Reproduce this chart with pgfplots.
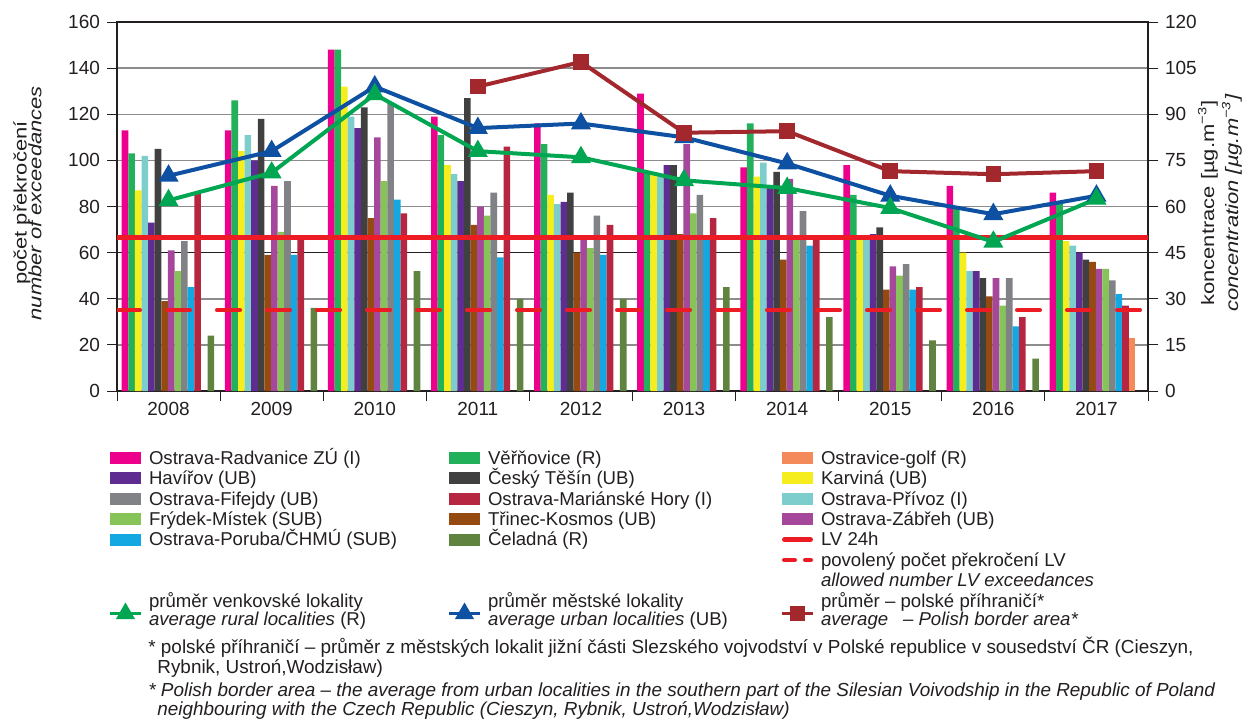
\documentclass[border=0pt]{standalone}
\usepackage{fontspec}
\setmainfont{Liberation Sans}
\newfontfamily\lblfont[FakeStretch=1.22]{Liberation Sans}
\usepackage{pgfplots}
\pgfplotsset{compat=1.18}
\usepackage{pgfplotstable}

\definecolor{cRad}{RGB}{236,0,140}
\definecolor{cVer}{RGB}{34,176,90}
\definecolor{cKar}{RGB}{245,237,30}
\definecolor{cPri}{RGB}{125,205,205}
\definecolor{cHav}{RGB}{95,45,145}
\definecolor{cCes}{RGB}{64,64,64}
\definecolor{cTri}{RGB}{148,74,16}
\definecolor{cZab}{RGB}{165,72,155}
\definecolor{cFry}{RGB}{134,195,88}
\definecolor{cFif}{RGB}{128,130,133}
\definecolor{cPor}{RGB}{20,168,226}
\definecolor{cMar}{RGB}{182,38,64}
\definecolor{cGolf}{RGB}{244,138,90}
\definecolor{cCel}{RGB}{96,132,64}
\definecolor{cLblue}{RGB}{14,80,162}
\definecolor{cLgreen}{RGB}{0,166,81}
\definecolor{cLpol}{RGB}{163,40,45}
\definecolor{cLV}{RGB}{237,28,36}
\definecolor{cText}{RGB}{35,31,32}
\definecolor{cGrid}{RGB}{140,140,140}

\pgfplotstableread{
X Rad Ver Kar Pri Hav Ces Tri Zab Fry Fif Por Mar Golf Cel
0 113 103 87 102 73 105 39 61 52 65 45 86 nan 24
1 113 126 104 111 100 118 59 89 69 91 59 66 nan 36
2 148 148 132 119 114 123 75 110 91 125 83 77 nan 52
3 119 111 98 94 91 127 72 80 76 86 58 106 nan 40
4 116 107 85 81 82 86 60 66 62 76 59 72 nan 40
5 129 95 94 93 98 98 68 107 77 85 66 75 nan 45
6 97 116 93 99 88 95 57 92 66 78 63 66 nan 32
7 98 85 66 66 68 71 44 54 50 55 44 45 nan 22
8 89 80 60 52 52 49 41 49 37 49 28 32 nan 14
9 86 81 65 63 60 57 56 53 53 48 42 37 23 nan
}\bars

\pgfplotstableread{
X rural urban
0.5 62 70
1.5 71 78
2.5 96.5 99
3.5 78 85.5
4.5 76 87
5.5 68.5 82.5
6.5 66 74
7.5 59.5 63.5
8.5 48.5 57.5
9.5 62.5 63.5
}\avg

\pgfplotstableread{
X pol
3.5 99
4.5 107
5.5 84
6.5 84.5
7.5 71.5
8.5 70.5
9.5 71.5
}\pol

\pgfplotsset{
  barimg/.style={legend image code/.code={%
    \fill[##1, draw=none] (0pt,-3pt) rectangle (15.5pt,3pt);
    \path[draw=none, fill=none] (0pt,0pt) -- (19.5pt,0pt);}},
  lvimg/.style={legend image code/.code={%
    \draw[##1] (1.25pt,0pt) -- (14.25pt,0pt);
    \path[draw=none, fill=none] (0pt,0pt) -- (19.5pt,0pt);}},
  dashimg/.style={legend image code/.code={%
    \draw[##1] (1pt,0pt) -- (6.5pt,0pt);
    \draw[##1] (11.5pt,0pt) -- (14.5pt,0pt);
    \path[draw=none, fill=none] (0pt,0pt) -- (19.5pt,0pt);}},
  avgimg/.style={legend image code/.code={%
    \begin{scope}[overlay,yshift=-5.8pt]
    \draw[mark repeat=2,mark phase=2,##1] plot coordinates {(0pt,0pt) (7.75pt,0pt) (15.5pt,0pt)};
    \end{scope}
    \path[draw=none, fill=none] (0pt,0pt) -- (19.5pt,0pt);}},
  blueL/.style={color=cLblue, line width=2pt, mark=triangle*, mark size=3.8pt, mark options={solid}},
  greenL/.style={color=cLgreen, line width=2pt, mark=triangle*, mark size=3.8pt, mark options={solid}},
  polL/.style={color=cLpol, line width=2pt, mark=square*, mark size=2.9pt, mark options={solid}},
  lvL/.style={color=cLV, line width=2.5pt, line cap=round},
  lvD/.style={color=cLV, line width=2pt, line cap=round},
}

\newcommand\barser[3]{\addplot[ybar, bar width=3.3pt, bar shift=#2pt, fill=#1, draw=none, forget plot] table[x=X,y=#3]{\bars};}
\newcommand\ca[1]{\makebox[150pt][l]{#1}}
\newcommand\cb[1]{\makebox[147pt][l]{#1}}

\begin{document}
\color{cText}
\begin{tikzpicture}
\path[use as bounding box] (0pt,0pt) rectangle (622.5pt,-360pt);
\begin{axis}[
  at={(58.5pt,-195.5pt)}, anchor=south west,
  scale only axis, width=515.5pt, height=184.5pt,
  xmin=0, xmax=10, ymin=0, ymax=160,
  axis line style={cText, line width=0.6pt},
  xtick={0,...,10}, xticklabels={},
  xtick pos=left, ytick pos=left,
  tick align=outside,
  x tick style={cText, line width=0.5pt},
  y tick style={cText, line width=0.5pt},
  major tick length=5pt,
  extra x ticks={0.5,1.5,...,9.5},
  extra x tick labels={2008,2009,2010,2011,2012,2013,2014,2015,2016,2017},
  extra x tick style={major tick length=0pt, grid=none, tick label style={yshift=-2pt}},
  ytick={0,20,40,80,100,120,140,160},
  extra y ticks={60},
  extra y tick style={grid style={cText, line width=0.5pt}},
  ymajorgrids, grid style={cGrid, line width=0.75pt},
  tick label style={font=\fontsize{9.5}{11}\selectfont, text=cText},
  /pgf/number format/assume math mode=true,
  ylabel={počet překročení\\[-1.2pt]\textit{number of exceedances}},
  ylabel style={at={(axis description cs:-0.0868,0.509)}, anchor=center, align=center, font=\lblfont\fontsize{9}{8.5}\selectfont},
  legend columns=3, legend cell align=left,
  legend style={at={(axis description cs:-0.00679,-0.1539)}, anchor=north west, draw=none, fill=none,
    inner sep=0pt, outer sep=0pt, row sep=0pt, column sep=0pt,
    font=\fontsize{9.3}{11}\selectfont,
    nodes={inner sep=0pt, outer sep=0pt, text height=8.2pt, text depth=2pt}},
]
\barser{cRad}{4.0}{Rad}
\barser{cVer}{7.3}{Ver}
\barser{cKar}{10.6}{Kar}
\barser{cPri}{13.9}{Pri}
\barser{cHav}{17.2}{Hav}
\barser{cCes}{20.5}{Ces}
\barser{cTri}{23.8}{Tri}
\barser{cZab}{27.1}{Zab}
\barser{cFry}{30.4}{Fry}
\barser{cFif}{33.7}{Fif}
\barser{cPor}{37.0}{Por}
\barser{cMar}{40.3}{Mar}
\barser{cGolf}{43.6}{Golf}
\barser{cCel}{46.9}{Cel}
\addplot[lvD, dash pattern=on 11.5pt off 13.5pt, forget plot] coordinates {(0,35) (10,35)};

\addlegendimage{barimg, fill=cRad}\addlegendentry{\ca{Ostrava-Radvanice ZÚ (I)}}
\addlegendimage{barimg, fill=cVer}\addlegendentry{\cb{Věřňovice (R)}}
\addlegendimage{barimg, fill=cGolf}\addlegendentry{Ostravice-golf (R)}
\addlegendimage{barimg, fill=cHav}\addlegendentry{\ca{Havířov (UB)}}
\addlegendimage{barimg, fill=cCes}\addlegendentry{\cb{Český Těšín (UB)}}
\addlegendimage{barimg, fill=cKar}\addlegendentry{Karviná (UB)}
\addlegendimage{barimg, fill=cFif}\addlegendentry{\ca{Ostrava-Fifejdy (UB)}}
\addlegendimage{barimg, fill=cMar}\addlegendentry{\cb{Ostrava-Mariánské Hory (I)}}
\addlegendimage{barimg, fill=cPri}\addlegendentry{Ostrava-Přívoz (I)}
\addlegendimage{barimg, fill=cFry}\addlegendentry{\ca{Frýdek-Místek (SUB)}}
\addlegendimage{barimg, fill=cTri}\addlegendentry{\cb{Třinec-Kosmos (UB)}}
\addlegendimage{barimg, fill=cZab}\addlegendentry{Ostrava-Zábřeh (UB)}
\addlegendimage{barimg, fill=cPor}\addlegendentry{\ca{Ostrava-Poruba/ČHMÚ (SUB)}}
\addlegendimage{barimg, fill=cCel}\addlegendentry{\cb{Čeladná (R)}}
\addlegendimage{lvimg, lvL}\addlegendentry{LV 24h}
\addlegendimage{empty legend}\addlegendentry{\ca{\strut}}
\addlegendimage{empty legend}\addlegendentry{\cb{\strut}}
\addlegendimage{dashimg, lvD}\addlegendentry{povolený počet překročení LV}
\addlegendimage{empty legend}\addlegendentry{\ca{\strut}}
\addlegendimage{empty legend}\addlegendentry{\cb{\strut}}
\addlegendimage{empty legend}\addlegendentry{\textit{allowed number LV exceedances}}
\end{axis}

\begin{axis}[
  at={(58.5pt,-195.5pt)}, anchor=south west,
  scale only axis, width=515.5pt, height=184.5pt,
  xmin=0, xmax=10, ymin=0, ymax=120,
  axis x line=none, axis y line*=right,
  axis line style={cText, line width=0.6pt},
  ytick={0,15,...,120},
  tick align=outside, major tick length=5pt,
  y tick style={cText, line width=0.5pt},
  tick label style={font=\fontsize{9.5}{11}\selectfont, text=cText},
  /pgf/number format/assume math mode=true,
  ylabel={koncentrace [µg.m\textsuperscript{−3}]\\\textit{concentration [µg.m\textsuperscript{−3}]}},
  ylabel style={at={(axis description cs:1.0698,0.509)}, anchor=center, align=center, font=\lblfont\fontsize{9}{12}\selectfont},
  legend columns=3, legend cell align=left,
  legend style={at={(axis description cs:-0.00679,-0.5474)}, anchor=north west, draw=none, fill=none,
    inner sep=0pt, outer sep=0pt, row sep=0pt, column sep=0pt,
    font=\fontsize{9.3}{11}\selectfont,
    nodes={inner sep=0pt, outer sep=0pt, text height=7pt, text depth=2pt}},
]
\addplot[lvL, forget plot] coordinates {(0,50) (10,50)};
\addplot[blueL, forget plot] table[x=X,y=urban]{\avg};
\addplot[greenL, forget plot] table[x=X,y=rural]{\avg};
\addplot[polL, forget plot] table[x=X,y=pol]{\pol};

\addlegendimage{avgimg, greenL, line width=1.75pt}\addlegendentry{\ca{průměr venkovské lokality}}
\addlegendimage{avgimg, blueL, line width=1.75pt}\addlegendentry{\cb{průměr městské lokality}}
\addlegendimage{avgimg, polL, line width=1.75pt}\addlegendentry{průměr – polské příhraničí*}
\addlegendimage{empty legend}\addlegendentry{\ca{\textit{average rural localities} (R)}}
\addlegendimage{empty legend}\addlegendentry{\cb{\textit{average urban localities} (UB)}}
\addlegendimage{empty legend}\addlegendentry{\textit{average}\hspace{0.8em}\textit{– Polish border area*}}
\end{axis}

\begin{scope}[every node/.style={anchor=base west, inner sep=0pt, font=\fontsize{9.45}{11}\selectfont, text=cText}]
\node at (74pt,-326.5pt) {* polské příhraničí – průměr z městských lokalit jižní části Slezského vojvodství v Polské republice v sousedství ČR (Cieszyn,};
\node at (78.5pt,-336.5pt) {Rybnik, Ustroń,Wodzisław)};
\node at (74pt,-348pt) {\itshape * Polish border area – the average from urban localities in the southern part of the Silesian Voivodship in the Republic of Poland};
\node at (78.5pt,-357.5pt) {\itshape neighbouring with the Czech Republic (Cieszyn, Rybnik, Ustroń,Wodzisław)};
\end{scope}
\end{tikzpicture}
\end{document}
